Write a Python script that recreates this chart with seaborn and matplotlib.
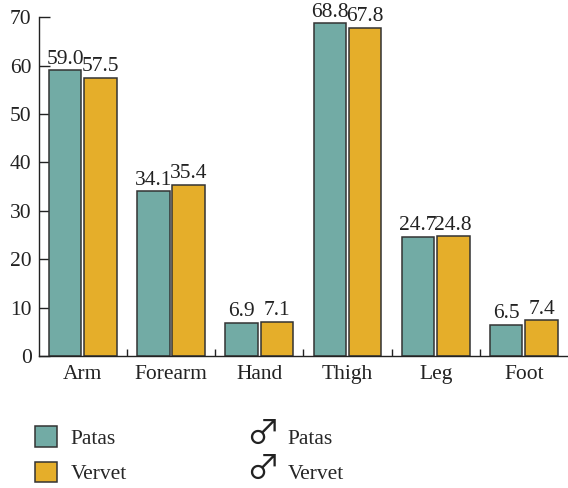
import numpy as np
import pandas as pd
import matplotlib
matplotlib.use("Agg")
import matplotlib.pyplot as plt
import seaborn as sns
from matplotlib.patches import Patch
from matplotlib.text import Text
from matplotlib.legend_handler import HandlerBase

# data
segments = ["Arm", "Forearm", "Hand", "Thigh", "Leg", "Foot"]
patas = [59.0, 34.1, 6.9, 68.8, 24.7, 6.5]
vervet = [57.5, 35.4, 7.1, 67.8, 24.8, 7.4]
species = ["Patas", "Vervet"]
colors = ["#72aba5", "#e5ae2a"]

df = pd.DataFrame({
    "segment": segments * 2,
    "value": patas + vervet,
    "species": [species[0]] * len(segments) + [species[1]] * len(segments),
})


# legend handle that draws a male sign instead of a patch
class MaleSign:
    pass


class HandlerMale(HandlerBase):
    def create_artists(self, legend, orig_handle, xdescent, ydescent,
                       width, height, fontsize, trans):
        t = Text(width / 2 - xdescent, height / 2 - ydescent + 1.5, "\u2642",
                 ha="center", va="center", fontsize=24, color="#222222",
                 family=["Noto Sans CJK JP", "DejaVu Sans"],
                 transform=trans)
        return [t]


sns.set_style("ticks")
plt.rcParams["font.family"] = ["Liberation Serif", "DejaVu Serif"]
fs = 15.5

fig = plt.figure(figsize=(5.68, 4.88), dpi=100)
ax = fig.add_axes([0.068, 0.27, 0.932, 0.695])

sns.barplot(data=df, x="segment", y="value", hue="species", palette=colors,
            saturation=1, width=0.8, gap=0.08, edgecolor="#333333",
            linewidth=1.1, legend=False, ax=ax)

for cont in ax.containers:
    ax.bar_label(cont, fmt="%.1f", padding=1, fontsize=fs, color="#222222")

ax.set_xlim(-0.5, len(segments) - 0.5)
ax.set_ylim(0, 70)
ax.set_yticks(np.arange(0, 71, 10))
ax.set_xlabel("")
ax.set_ylabel("")
sns.despine(ax=ax)
for s in ["left", "bottom"]:
    ax.spines[s].set_linewidth(1.0)
    ax.spines[s].set_color("#222222")

ax.tick_params(axis="y", direction="in", length=8, width=1.0, pad=5,
               labelsize=fs, colors="#222222")
ax.tick_params(axis="x", which="major", length=0, pad=6, labelsize=fs,
               colors="#222222")
ax.set_xticks(np.arange(0.5, len(segments) - 1, 1.0), minor=True)
ax.tick_params(axis="x", which="minor", direction="in", length=5, width=1.0,
               color="#222222")

handles = [
    Patch(facecolor=colors[0], edgecolor="#333333", linewidth=1.1),
    Patch(facecolor=colors[1], edgecolor="#333333", linewidth=1.1),
    MaleSign(),
    MaleSign(),
]
labels = ["Patas", "Vervet", "Patas", "Vervet"]
fig.legend(handles, labels, loc="upper left", bbox_to_anchor=(0.062, 0.127),
           ncol=2, frameon=False, fontsize=fs, borderpad=0, borderaxespad=0,
           handlelength=1.0, handleheight=1.1, handletextpad=0.65,
           labelspacing=0.6, columnspacing=5.8,
           handler_map={MaleSign: HandlerMale()})

fig.savefig("out.png", dpi=100)
